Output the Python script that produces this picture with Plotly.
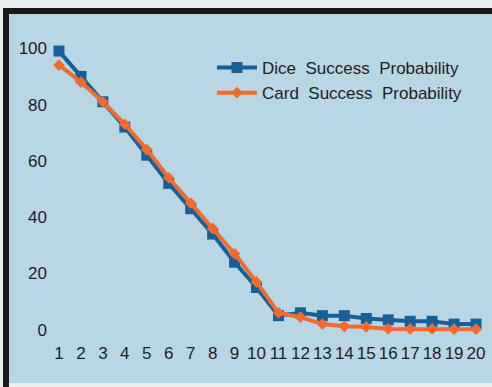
import plotly.graph_objects as go

steps = list(range(1, 21))
dice_success = [99, 90, 81, 72, 62, 52, 43, 34, 24, 15, 5, 6, 5, 5, 4, 3.5, 3, 3, 2, 2]
card_success = [94, 88, 81, 73, 64, 54, 45, 36, 27, 17, 6, 4.5, 2, 1.2, 1, 0.3, 0.3, 0.3, 0.2, 0.2]

W, H = 492, 387
L, R, T, B = 48, 5, 37, 46
pw, ph = W - L - R, H - T - B


def px(x):
    return (x - L) / pw


def py(y):
    return (H - B - y) / ph


fig = go.Figure()
fig.add_trace(
    go.Scatter(
        x=steps,
        y=dice_success,
        mode="lines+markers",
        name="Dice  Success  Probability",
        line=dict(color="#165f97", width=4),
        marker=dict(symbol="square", size=11, color="#165f97"),
    )
)
fig.add_trace(
    go.Scatter(
        x=steps,
        y=card_success,
        mode="lines+markers",
        name="Card  Success  Probability",
        line=dict(color="#f26a2e", width=4),
        marker=dict(symbol="diamond", size=9, color="#f26a2e"),
    )
)

# panel background with dark frame on left and top
shapes = [
    dict(type="rect", xref="paper", yref="paper", x0=px(9), x1=px(W + 5), y0=py(383), y1=py(14),
         fillcolor="#b8d6e4", line=dict(width=0), layer="below"),
    dict(type="rect", xref="paper", yref="paper", x0=px(3), x1=px(9), y0=py(H + 5), y1=py(8),
         fillcolor="#1a1a1a", line=dict(width=0), layer="below"),
    dict(type="rect", xref="paper", yref="paper", x0=px(3), x1=px(W + 5), y0=py(14), y1=py(8),
         fillcolor="#1a1a1a", line=dict(width=0), layer="below"),
]

fig.update_layout(
    width=W,
    height=H,
    margin=dict(l=L, r=R, t=T, b=B),
    paper_bgcolor="#eceff0",
    plot_bgcolor="rgba(0,0,0,0)",
    shapes=shapes,
    showlegend=True,
    legend=dict(
        x=px(212), y=py(50), xanchor="left", yanchor="top",
        bgcolor="rgba(0,0,0,0)",
        font=dict(family="Liberation Sans, Arial", size=17, color="#1e1e1e"),
        tracegroupgap=0, itemwidth=40,
    ),
    font=dict(family="Liberation Sans, Arial", size=17, color="#1e1e1e"),
)
fig.update_xaxes(
    range=[0.5, 20.5], tickmode="array", tickvals=steps, showgrid=False, zeroline=False,
    showline=False, ticks="", tickangle=0, tickfont=dict(size=17),
)
fig.update_yaxes(
    range=[-4, 104], tickmode="array", tickvals=[0, 20, 40, 60, 80, 100], showgrid=False,
    zeroline=False, showline=False, ticks="", tickfont=dict(size=17),
)

fig.write_html(
    "out.html",
    config={"displayModeBar": False},
    post_script="document.body.style.margin = '0';",
)
